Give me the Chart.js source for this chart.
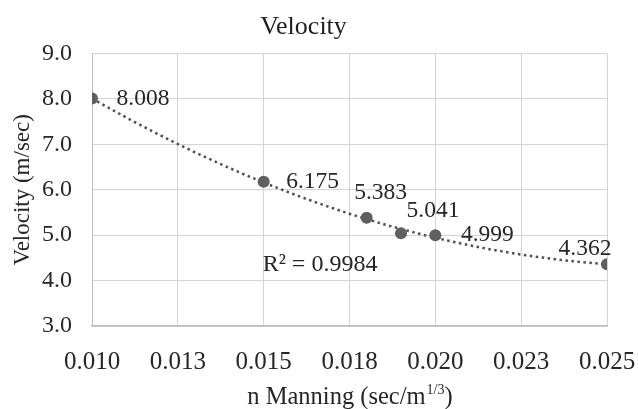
<!DOCTYPE html>
<html>
<head>
<meta charset="utf-8">
<script src="https://cdn.jsdelivr.net/npm/chart.js@4.4.1/dist/chart.umd.min.js"></script>
<style>
  html, body { margin: 0; padding: 0; background: #fff; }
  #wrap { width: 638px; height: 409px; }
</style>
</head>
<body>
<div id="wrap"><canvas id="velocityChart"></canvas></div>
<script>
// data
const nManning = [0.010, 0.015, 0.018, 0.019, 0.020, 0.025];
const velocity = [8.008, 6.175, 5.383, 5.041, 4.999, 4.362];
const pointLabels = ["8.008", "6.175", "5.383", "5.041", "4.999", "4.362"];
const xTickLabels = ["0.010", "0.013", "0.015", "0.018", "0.020", "0.023", "0.025"];
const yTickLabels = ["3.0", "4.0", "5.0", "6.0", "7.0", "8.0", "9.0"];
const rSquaredText = "R\u00b2 = 0.9984";

const FONT = "'Liberation Serif', 'Times New Roman', serif";
const TEXT = "#262626";

// 2nd order polynomial trendline (least squares), like Excel's
function polyFit2(xs, ys) {
    const x0 = xs.reduce((a, b) => a + b, 0) / xs.length;
    let s = [0, 0, 0, 0, 0], t = [0, 0, 0];
    xs.forEach((x, i) => {
        const u = (x - x0) * 1000;
        for (let k = 0; k <= 4; k++) s[k] += Math.pow(u, k);
        for (let k = 0; k <= 2; k++) t[k] += Math.pow(u, k) * ys[i];
    });
    const m = [[s[0], s[1], s[2], t[0]], [s[1], s[2], s[3], t[1]], [s[2], s[3], s[4], t[2]]];
    for (let i = 0; i < 3; i++) {
        for (let j = i + 1; j < 3; j++) {
            const f = m[j][i] / m[i][i];
            for (let k = i; k < 4; k++) m[j][k] -= f * m[i][k];
        }
    }
    const c = [0, 0, 0];
    for (let i = 2; i >= 0; i--) {
        let v = m[i][3];
        for (let k = i + 1; k < 3; k++) v -= m[i][k] * c[k];
        c[i] = v / m[i][i];
    }
    return x => {
        const u = (x - x0) * 1000;
        return c[0] + c[1] * u + c[2] * u * u;
    };
}

const trend = polyFit2(nManning, velocity);
const xMin = Math.min(...nManning), xMax = Math.max(...nManning);
const trendPoints = [];
for (let i = 0; i <= 120; i++) {
    const x = xMin + (xMax - xMin) * i / 120;
    trendPoints.push({ x: x, y: trend(x) });
}

// data labels, R² note and x title with superscript
const extraText = {
    id: "extraText",
    afterDatasetsDraw(chart, args, opts) {
        const ctx = chart.ctx;
        const xs = chart.scales.x, ys = chart.scales.y;
        ctx.save();
        ctx.fillStyle = TEXT;
        ctx.font = opts.labelSize + "px " + FONT;
        ctx.textAlign = "center";
        ctx.textBaseline = "middle";
        pointLabels.forEach((txt, i) => {
            const px = xs.getPixelForValue(nManning[i]);
            const py = ys.getPixelForValue(velocity[i]);
            const off = opts.labelOffsets[i];
            ctx.fillText(txt, px + off[0], py + off[1]);
        });
        ctx.font = opts.rSize + "px " + FONT;
        ctx.textAlign = "left";
        ctx.fillText(rSquaredText, xs.getPixelForValue(opts.rAnchor[0]) - 1, ys.getPixelForValue(opts.rAnchor[1]));

        // x axis title
        const main = "n Manning (sec/m";
        const sup = "1/3";
        const tail = ")";
        ctx.font = opts.titleSize + "px " + FONT;
        const wMain = ctx.measureText(main).width;
        const wTail = ctx.measureText(tail).width;
        ctx.font = opts.supSize + "px " + FONT;
        const wSup = ctx.measureText(sup).width;
        const total = wMain + wSup + wTail;
        let x = (chart.chartArea.left + chart.chartArea.right) / 2 - total / 2;
        const base = opts.titleBaseline;
        ctx.textBaseline = "alphabetic";
        ctx.font = opts.titleSize + "px " + FONT;
        ctx.fillText(main, x, base);
        x += wMain;
        ctx.font = opts.supSize + "px " + FONT;
        ctx.fillText(sup, x + 1, base - 10);
        x += wSup + 1;
        ctx.font = opts.titleSize + "px " + FONT;
        ctx.fillText(tail, x, base);
        ctx.restore();
    }
};

new Chart(document.getElementById("velocityChart"), {
    type: "scatter",
    data: {
        datasets: [
            {
                label: "Velocity",
                data: nManning.map((x, i) => ({ x: x, y: velocity[i] })),
                pointRadius: 6,
                pointHoverRadius: 6,
                backgroundColor: "#5f5f5f",
                borderColor: "#5f5f5f",
                borderWidth: 0,
                order: 1
            },
            {
                label: "Trend",
                data: trendPoints,
                showLine: true,
                pointRadius: 0,
                borderColor: "#505050",
                borderWidth: 2.5,
                borderDash: [2.5, 3.5],
                fill: false,
                order: 2
            }
        ]
    },
    options: {
        responsive: true,
        maintainAspectRatio: false,
        animation: false,
        events: [],
        layout: { padding: { top: 0, left: 0, right: 31, bottom: 0 } },
        plugins: {
            legend: { display: false },
            tooltip: { enabled: false },
            title: {
                display: true,
                text: "Velocity",
                color: "#1f1f1f",
                font: { family: FONT, size: 26, weight: "normal" },
                padding: { top: 11.6, bottom: 10.7 }
            },
            extraText: {
                labelSize: 23.5,
                rSize: 24,
                titleSize: 24.5,
                supSize: 14,
                titleBaseline: 404,
                rAnchor: [0.015, 4.36],
                labelOffsets: [[51, 0], [49, 0], [14, -25], [32, -22], [52, 0], [-22, -15]]
            }
        },
        scales: {
            x: {
                type: "linear",
                min: 0.010,
                max: 0.025,
                afterBuildTicks: scale => {
                    scale.ticks = xTickLabels.map((t, i) => ({ value: 0.010 + i * 0.0025 }));
                },
                ticks: {
                    autoSkip: false,
                    maxRotation: 0,
                    padding: 21,
                    color: TEXT,
                    font: { family: FONT, size: 25 },
                    callback: (v, i) => xTickLabels[i]
                },
                grid: { color: "#d4d4d4", lineWidth: 1, drawTicks: false },
                border: { color: "#bdbdbd", width: 1.5 },
                title: { display: false },
                afterFit: scale => {
                    scale.height = 83;
                    scale.paddingLeft = 0;
                    scale.paddingRight = 0;
                }
            },
            y: {
                min: 3.0,
                max: 9.0,
                afterBuildTicks: scale => {
                    scale.ticks = yTickLabels.map(t => ({ value: parseFloat(t) }));
                },
                ticks: {
                    padding: 20,
                    color: TEXT,
                    font: { family: FONT, size: 24 },
                    callback: (v, i) => yTickLabels[i]
                },
                grid: { color: "#d4d4d4", lineWidth: 1, drawTicks: false },
                border: { color: "#bdbdbd", width: 1 },
                title: {
                    display: true,
                    text: "Velocity (m/sec)",
                    color: TEXT,
                    font: { family: FONT, size: 23 },
                    padding: { top: 9, bottom: 0 }
                },
                afterFit: scale => {
                    scale.width = 92;
                    scale.paddingTop = 0;
                    scale.paddingBottom = 0;
                }
            }
        }
    },
    plugins: [extraText]
});
</script>
</body>
</html>
